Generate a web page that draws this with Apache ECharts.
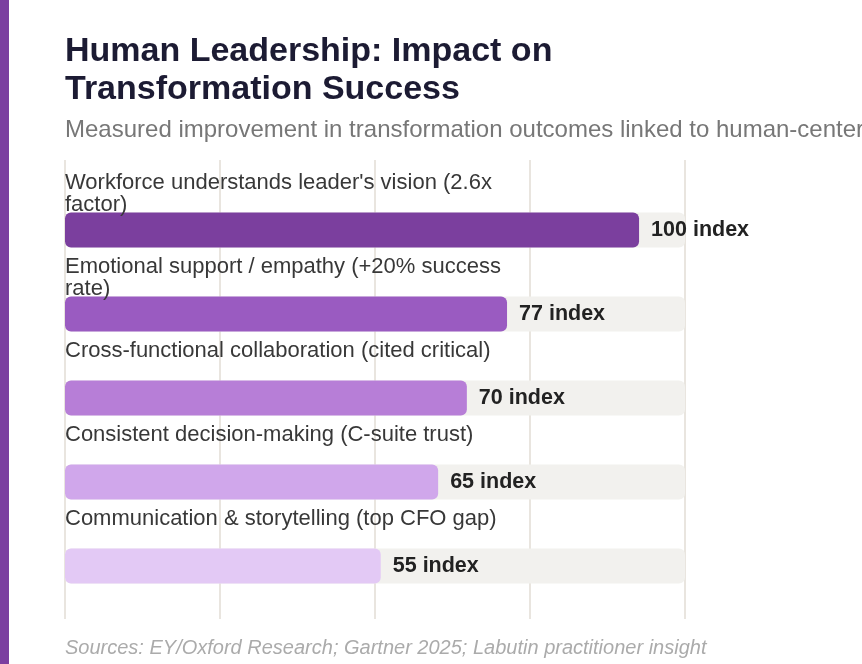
<!DOCTYPE html>
<html>
<head>
<meta charset="utf-8">
<script src="https://cdn.jsdelivr.net/npm/echarts@6/dist/echarts.min.js"></script>
<style>
  html, body { margin: 0; padding: 0; background: #ffffff; }
  #chart { width: 862px; height: 664px; }
</style>
</head>
<body>
<div id="chart"></div>
<script>
// ---- data ----
const categories = [
  "Workforce understands leader's vision (2.6x factor)",
  "Emotional support / empathy (+20% success rate)",
  "Cross-functional collaboration (cited critical)",
  "Consistent decision-making (C-suite trust)",
  "Communication & storytelling (top CFO gap)"
];
const values = [100, 77, 70, 65, 55];
const valueUnit = "index";
const axisMax = 108;
const axisStep = 27;
const titleText = "Human Leadership: Impact on\nTransformation Success";
const subtitleText = "Measured improvement in transformation outcomes linked to human-centered leadership";
const sourceText = "Sources: EY/Oxford Research; Gartner 2025; Labutin practitioner insight";

// ---- styles ----
const barColors = ["#7B3F9E", "#9A5BC1", "#B77ED7", "#D0A7EB", "#E3C9F5"];
const FONT = "'Liberation Sans', Arial, Helvetica, sans-serif";

const chart = echarts.init(document.getElementById('chart'), null, { renderer: 'canvas' });

chart.setOption({
  backgroundColor: '#ffffff',
  animation: false,
  textStyle: { fontFamily: FONT },
  graphic: [
    { type: 'rect', left: 0, top: 0, shape: { width: 9, height: 664 }, style: { fill: '#7B3FA0' }, silent: true }
  ],
  title: [
    {
      text: titleText, left: 65, top: 33, padding: 0,
      textStyle: { fontFamily: FONT, fontSize: 34, fontWeight: 'bold', color: '#1C1B33', lineHeight: 38 }
    },
    {
      text: subtitleText, left: 65, top: 116, padding: 0,
      textStyle: { fontFamily: FONT, fontSize: 24, fontWeight: 'normal', color: '#777777', lineHeight: 28 }
    },
    {
      text: sourceText, left: 65, top: 636, padding: 0,
      textStyle: { fontFamily: FONT, fontSize: 20, fontWeight: 'normal', fontStyle: 'italic', color: '#ABABAB', lineHeight: 24 }
    }
  ],
  grid: [
    { left: 65, right: 177, top: 188, height: 420, containLabel: false },
    { left: 65, right: 177, top: 160, bottom: 45, containLabel: false }
  ],
  xAxis: [
    { type: 'value', gridIndex: 0, min: 0, max: axisMax, interval: axisStep, show: false, splitLine: { show: false } },
    {
      type: 'value', gridIndex: 1, min: 0, max: axisMax, interval: axisStep,
      axisLine: { show: false }, axisTick: { show: false }, axisLabel: { show: false },
      splitLine: { show: true, lineStyle: { color: '#E9E5DF', width: 2 } }
    }
  ],
  yAxis: [
    { type: 'category', gridIndex: 0, data: categories, inverse: true, show: false },
    { type: 'value', gridIndex: 1, show: false, min: 0, max: 1 }
  ],
  series: [
    {
      type: 'bar', xAxisIndex: 0, yAxisIndex: 0,
      data: values.map((v, i) => ({ value: v, itemStyle: { color: barColors[i] } })),
      barWidth: 35,
      itemStyle: { borderRadius: 6 },
      showBackground: true,
      backgroundStyle: { color: '#F2F1EE', borderRadius: 6 },
      label: {
        show: true, position: 'right', distance: 12,
        formatter: p => p.value + ' ' + valueUnit,
        fontFamily: FONT, fontSize: 21.5, fontWeight: 'bold', color: '#222222'
      },
      z: 3
    },
    {
      type: 'bar', xAxisIndex: 0, yAxisIndex: 0,
      data: values,
      barWidth: 35, barGap: '-100%',
      itemStyle: { color: 'rgba(0,0,0,0)' },
      silent: true,
      label: {
        show: true, position: [0, -41], align: 'left', verticalAlign: 'top',
        formatter: '{b}', width: 460, overflow: 'break',
        fontFamily: FONT, fontSize: 22, lineHeight: 22, color: '#383838'
      },
      z: 4
    }
  ]
});
</script>
</body>
</html>
